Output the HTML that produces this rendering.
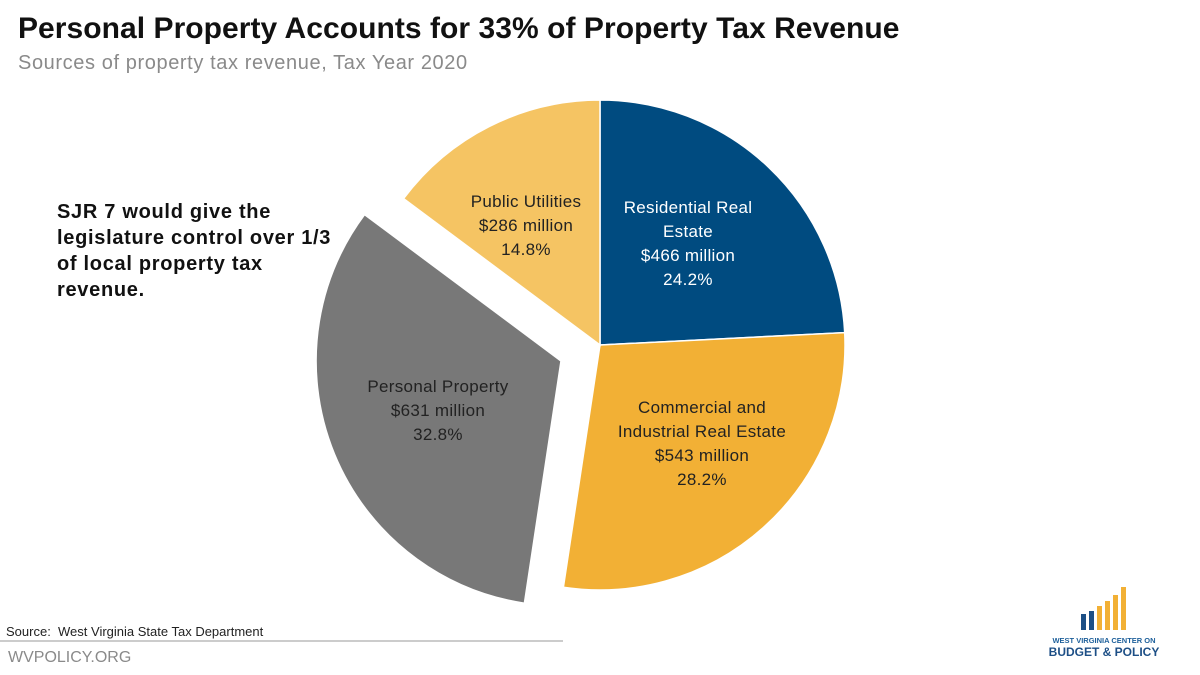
<!DOCTYPE html>
<html><head><meta charset="utf-8"><style>
body{margin:0;width:1200px;height:675px;background:#fff;font-family:"Liberation Sans","DejaVu Sans",sans-serif;overflow:hidden;position:relative}
.t{position:absolute;white-space:nowrap}
</style></head><body>
<div class="t" style="left:18px;top:12px;font-size:30px;font-weight:bold;color:#111;letter-spacing:0.05px">Personal Property Accounts for 33% of Property Tax Revenue</div>
<div class="t" style="left:18px;top:52px;font-size:20px;color:#8a8a8a;letter-spacing:0.6px">Sources of property tax revenue, Tax Year 2020</div>
<div class="t" style="left:57px;top:199px;font-size:20px;font-weight:bold;color:#111;line-height:26px;letter-spacing:0.7px">SJR 7 would give the<br>legislature control over 1/3<br>of local property tax<br>revenue.</div>
<svg width="1200" height="675" style="position:absolute;left:0;top:0">
<path d="M600,345 L600,100 A245,245 0 0 1 844.7,332.6 Z" fill="#004b80" stroke="#fff" stroke-width="1.5"/>
<path d="M600,345 L844.7,332.6 A245,245 0 0 1 563.4,587.2 Z" fill="#f2b035" stroke="#fff" stroke-width="1.5"/>
<path transform="translate(-39,16)" d="M600,345 L563.4,587.2 A245,245 0 0 1 403.6,198.6 Z" fill="#787878" stroke="#fff" stroke-width="1.5"/>
<path d="M600,345 L403.6,198.6 A245,245 0 0 1 600,100 Z" fill="#f5c463" stroke="#fff" stroke-width="1.5"/>
<g font-size="17" text-anchor="middle" letter-spacing="0.3">
<text x="526" y="207" fill="#222">Public Utilities</text>
<text x="526" y="231" fill="#222">$286 million</text>
<text x="526" y="255" fill="#222">14.8%</text>
<text x="688" y="213" fill="#fff">Residential Real</text>
<text x="688" y="237" fill="#fff">Estate</text>
<text x="688" y="261" fill="#fff">$466 million</text>
<text x="688" y="285" fill="#fff">24.2%</text>
<text x="702" y="413" fill="#222">Commercial and</text>
<text x="702" y="437" fill="#222">Industrial Real Estate</text>
<text x="702" y="461" fill="#222">$543 million</text>
<text x="702" y="485" fill="#222">28.2%</text>
<text x="438" y="392" fill="#222">Personal Property</text>
<text x="438" y="416" fill="#222">$631 million</text>
<text x="438" y="440" fill="#222">32.8%</text>
</g>
<line x1="0" y1="641" x2="563" y2="641" stroke="#999" stroke-width="1"/>
<g>
<rect x="1081" y="614" width="5" height="16" fill="#1d4f86"/>
<rect x="1089" y="611" width="5" height="19" fill="#1d4f86"/>
<rect x="1097" y="606" width="5" height="24" fill="#f2b035"/>
<rect x="1105" y="601" width="5" height="29" fill="#f2b035"/>
<rect x="1113" y="595" width="5" height="35" fill="#f2b035"/>
<rect x="1121" y="587" width="5" height="43" fill="#f2b035"/>
</g>
<text x="1104" y="643" font-size="7.5" font-weight="bold" fill="#1d5f9a" text-anchor="middle">WEST VIRGINIA CENTER ON</text>
<text x="1104" y="656" font-size="12" font-weight="bold" fill="#1d4f86" text-anchor="middle">BUDGET &amp; POLICY</text>
</svg>
<div class="t" style="left:6px;top:624px;font-size:13px;color:#222">Source:&nbsp; West Virginia State Tax Department</div>
<div class="t" style="left:8px;top:649px;font-size:16px;color:#8a8a8a">WVPOLICY.ORG</div>
</body></html>
